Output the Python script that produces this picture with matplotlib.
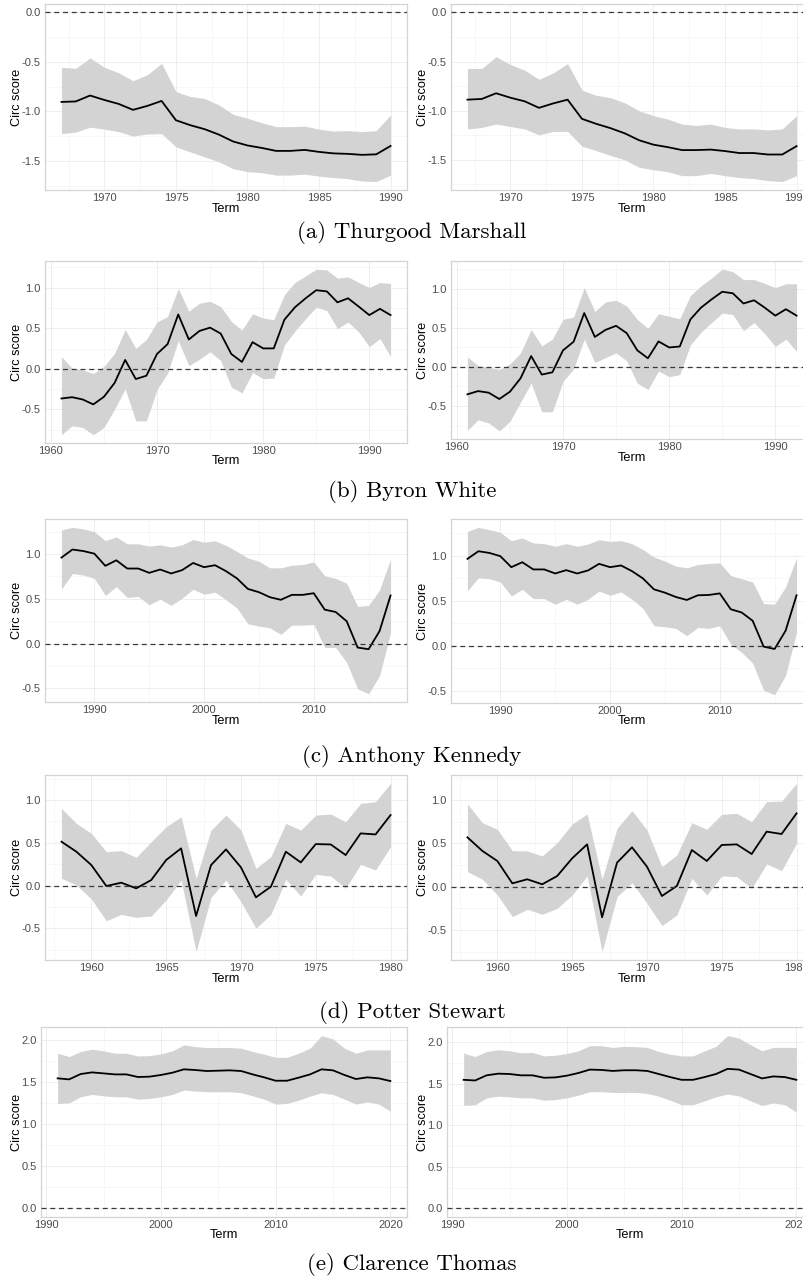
import numpy as np
import matplotlib
matplotlib.use("Agg")
import matplotlib.pyplot as plt
from matplotlib.ticker import MultipleLocator, FormatStrFormatter

plt.rcParams["font.family"] = ["Liberation Sans", "DejaVu Sans"]
plt.rcParams["axes.unicode_minus"] = False

# ---------------- data ----------------
marshall_years = list(range(1967, 1991))
marshall_mean_l = [-0.905, -0.90, -0.84, -0.885, -0.925, -0.985, -0.945, -0.895, -1.09, -1.14, -1.18, -1.235,
                   -1.305, -1.345, -1.37, -1.40, -1.40, -1.39, -1.41, -1.425, -1.43, -1.44, -1.435, -1.35]
marshall_hi_l = [-0.555, -0.565, -0.46, -0.555, -0.61, -0.69, -0.63, -0.515, -0.80, -0.85, -0.87, -0.935,
                 -1.03, -1.07, -1.115, -1.155, -1.155, -1.15, -1.18, -1.20, -1.195, -1.205, -1.195, -1.035]
marshall_lo_l = [-1.225, -1.21, -1.16, -1.18, -1.205, -1.25, -1.23, -1.225, -1.36, -1.41, -1.46, -1.51,
                 -1.58, -1.61, -1.62, -1.645, -1.645, -1.635, -1.655, -1.67, -1.68, -1.705, -1.71, -1.645]
marshall_mean_r = [-0.887, -0.88, -0.822, -0.867, -0.904, -0.97, -0.925, -0.887, -1.082, -1.133, -1.177, -1.23,
                   -1.30, -1.345, -1.37, -1.40, -1.40, -1.395, -1.41, -1.43, -1.43, -1.445, -1.445, -1.36]
marshall_hi_r = [-0.57, -0.57, -0.45, -0.53, -0.587, -0.68, -0.614, -0.52, -0.79, -0.843, -0.867, -0.92,
                 -1.0, -1.05, -1.085, -1.135, -1.15, -1.135, -1.17, -1.185, -1.185, -1.195, -1.185, -1.05]
marshall_lo_r = [-1.185, -1.17, -1.135, -1.16, -1.185, -1.245, -1.21, -1.21, -1.36, -1.405, -1.455, -1.50,
                 -1.575, -1.60, -1.62, -1.66, -1.66, -1.637, -1.66, -1.68, -1.69, -1.71, -1.72, -1.66]

white_years = list(range(1961, 1993))
white_mean_l = [-0.366, -0.35, -0.378, -0.439, -0.345, -0.175, 0.11, -0.126, -0.085, 0.183, 0.305, 0.671,
                0.362, 0.467, 0.508, 0.435, 0.183, 0.085, 0.329, 0.252, 0.252, 0.606, 0.76, 0.87,
                0.97, 0.955, 0.82, 0.87, 0.768, 0.663, 0.74, 0.663]
white_hi_l = [0.15, 0.008, -0.012, -0.06, 0.03, 0.19, 0.484, 0.252, 0.362, 0.577, 0.646, 0.99,
              0.711, 0.809, 0.833, 0.768, 0.585, 0.476, 0.679, 0.626, 0.606, 0.915, 1.065, 1.146,
              1.228, 1.22, 1.118, 1.134, 1.065, 1.004, 1.065, 1.053]
white_lo_l = [-0.813, -0.703, -0.724, -0.813, -0.724, -0.5, -0.248, -0.642, -0.642, -0.256, -0.053, 0.346,
              0.04, 0.118, 0.211, 0.102, -0.224, -0.297, -0.045, -0.122, -0.114, 0.293, 0.467, 0.618,
              0.76, 0.72, 0.496, 0.577, 0.455, 0.272, 0.374, 0.15]
white_mean_r = [-0.35, -0.309, -0.329, -0.41, -0.317, -0.146, 0.138, -0.098, -0.069, 0.211, 0.321, 0.687,
                0.382, 0.472, 0.524, 0.431, 0.211, 0.11, 0.325, 0.248, 0.26, 0.606, 0.756, 0.862,
                0.959, 0.939, 0.809, 0.85, 0.756, 0.654, 0.736, 0.654]
white_hi_r = [0.126, 0.016, -0.004, -0.033, 0.037, 0.179, 0.476, 0.268, 0.354, 0.606, 0.638, 1.012,
              0.707, 0.829, 0.85, 0.776, 0.606, 0.492, 0.679, 0.646, 0.614, 0.911, 1.033, 1.134,
              1.248, 1.215, 1.114, 1.114, 1.065, 1.012, 1.061, 1.061]
white_lo_r = [-0.809, -0.675, -0.715, -0.817, -0.695, -0.451, -0.207, -0.573, -0.573, -0.187, -0.024, 0.354,
              0.057, 0.118, 0.179, 0.077, -0.207, -0.289, -0.053, -0.126, -0.098, 0.28, 0.443, 0.565,
              0.687, 0.667, 0.463, 0.565, 0.423, 0.26, 0.354, 0.199]

kennedy_years = list(range(1987, 2018))
kennedy_mean_l = [0.96, 1.05, 1.033, 1.004, 0.868, 0.93, 0.838, 0.838, 0.79, 0.827, 0.783, 0.82, 0.90,
                  0.853, 0.875, 0.809, 0.728, 0.61, 0.574, 0.518, 0.489, 0.544, 0.544, 0.5625, 0.379,
                  0.353, 0.25, -0.044, -0.0625, 0.14, 0.537]
kennedy_hi_l = [1.268, 1.298, 1.28, 1.25, 1.15, 1.19, 1.114, 1.114, 1.088, 1.103, 1.077, 1.103, 1.162,
                1.132, 1.147, 1.096, 1.029, 0.956, 0.919, 0.846, 0.846, 0.875, 0.882, 0.912, 0.757,
                0.728, 0.673, 0.415, 0.426, 0.599, 0.941]
kennedy_lo_l = [0.607, 0.783, 0.765, 0.728, 0.537, 0.636, 0.515, 0.526, 0.434, 0.496, 0.426, 0.507, 0.607,
                0.551, 0.574, 0.489, 0.397, 0.221, 0.195, 0.176, 0.103, 0.206, 0.206, 0.213, -0.044,
                -0.044, -0.21, -0.504, -0.559, -0.357, 0.121]
kennedy_mean_r = [0.963, 1.048, 1.029, 0.993, 0.871, 0.926, 0.846, 0.846, 0.801, 0.838, 0.801, 0.835, 0.908,
                  0.871, 0.89, 0.827, 0.746, 0.625, 0.588, 0.54, 0.507, 0.559, 0.5625, 0.58, 0.404,
                  0.368, 0.276, -0.011, -0.037, 0.165, 0.559]
kennedy_hi_r = [1.268, 1.313, 1.287, 1.257, 1.165, 1.195, 1.14, 1.132, 1.103, 1.132, 1.103, 1.129, 1.176,
                1.158, 1.165, 1.132, 1.066, 0.985, 0.938, 0.882, 0.864, 0.90, 0.912, 0.919, 0.779,
                0.743, 0.706, 0.467, 0.46, 0.651, 0.974]
kennedy_lo_r = [0.607, 0.754, 0.743, 0.706, 0.551, 0.625, 0.522, 0.522, 0.46, 0.515, 0.46, 0.515, 0.607,
                0.559, 0.596, 0.515, 0.412, 0.221, 0.21, 0.191, 0.11, 0.202, 0.191, 0.221, 0.018,
                -0.074, -0.195, -0.496, -0.544, -0.331, 0.147]

stewart_years = list(range(1958, 1981))
stewart_mean_l = [0.514, 0.397, 0.241, -0.004, 0.035, -0.031, 0.066, 0.30, 0.436, -0.354, 0.241, 0.424,
                  0.214, -0.136, -0.012, 0.397, 0.272, 0.486, 0.482, 0.358, 0.611, 0.599, 0.825]
stewart_hi_l = [0.903, 0.728, 0.611, 0.397, 0.409, 0.331, 0.514, 0.689, 0.805, 0.086, 0.65, 0.825,
                0.65, 0.202, 0.339, 0.728, 0.65, 0.825, 0.837, 0.747, 0.961, 0.981, 1.195]
stewart_lo_l = [0.086, 0.008, -0.156, -0.409, -0.335, -0.37, -0.354, -0.167, 0.066, -0.77, -0.136, 0.066,
                -0.187, -0.498, -0.335, 0.074, -0.121, 0.132, 0.113, -0.031, 0.249, 0.183, 0.455]
stewart_mean_r = [0.569, 0.412, 0.296, 0.038, 0.085, 0.027, 0.123, 0.327, 0.488, -0.354, 0.277, 0.454,
                  0.231, -0.108, 0.008, 0.423, 0.296, 0.481, 0.488, 0.377, 0.635, 0.608, 0.846]
stewart_hi_r = [0.954, 0.738, 0.662, 0.415, 0.412, 0.354, 0.508, 0.723, 0.838, 0.085, 0.673, 0.877,
                0.654, 0.231, 0.365, 0.738, 0.662, 0.835, 0.846, 0.75, 0.981, 0.988, 1.192]
stewart_lo_r = [0.173, 0.085, -0.096, -0.346, -0.262, -0.319, -0.25, -0.096, 0.123, -0.75, -0.115, 0.046,
                -0.192, -0.45, -0.327, 0.096, -0.096, 0.123, 0.115, -0.019, 0.262, 0.185, 0.50]

thomas_years = list(range(1991, 2021))
thomas_mean_l = [1.543, 1.531, 1.594, 1.614, 1.602, 1.59, 1.59, 1.559, 1.563, 1.583, 1.61, 1.65, 1.642,
                 1.63, 1.634, 1.638, 1.63, 1.59, 1.555, 1.515, 1.515, 1.551, 1.59, 1.65, 1.638, 1.583,
                 1.535, 1.555, 1.543, 1.511]
thomas_hi_l = [1.841, 1.801, 1.861, 1.889, 1.869, 1.841, 1.841, 1.809, 1.813, 1.833, 1.869, 1.94, 1.92,
               1.909, 1.909, 1.909, 1.901, 1.861, 1.829, 1.793, 1.793, 1.841, 1.901, 2.05, 2.01, 1.901,
               1.841, 1.881, 1.881, 1.881]
thomas_lo_l = [1.245, 1.252, 1.324, 1.352, 1.336, 1.324, 1.324, 1.296, 1.304, 1.324, 1.352, 1.404, 1.392,
               1.384, 1.384, 1.384, 1.372, 1.336, 1.296, 1.237, 1.245, 1.284, 1.332, 1.372, 1.352, 1.296,
               1.237, 1.264, 1.237, 1.153]
thomas_mean_r = [1.548, 1.54, 1.602, 1.622, 1.618, 1.602, 1.602, 1.573, 1.577, 1.598, 1.63, 1.671, 1.667,
                 1.655, 1.663, 1.663, 1.655, 1.618, 1.581, 1.548, 1.548, 1.581, 1.618, 1.68, 1.671, 1.618,
                 1.565, 1.589, 1.581, 1.548]
thomas_hi_r = [1.869, 1.828, 1.889, 1.91, 1.897, 1.873, 1.877, 1.836, 1.844, 1.864, 1.897, 1.959, 1.959,
               1.938, 1.951, 1.947, 1.938, 1.889, 1.856, 1.836, 1.836, 1.897, 1.951, 2.08, 2.05, 1.971,
               1.897, 1.938, 1.938, 1.938]
thomas_lo_r = [1.24, 1.248, 1.331, 1.351, 1.343, 1.331, 1.331, 1.302, 1.31, 1.331, 1.363, 1.405, 1.405,
               1.396, 1.396, 1.396, 1.384, 1.351, 1.302, 1.248, 1.248, 1.294, 1.343, 1.376, 1.355, 1.294,
               1.24, 1.269, 1.248, 1.158]

captions = ["(a) Thurgood Marshall", "(b) Byron White", "(c) Anthony Kennedy",
            "(d) Potter Stewart", "(e) Clarence Thomas"]

# ---------------- layout (pixels) ----------------
W, H = 804, 1284
fig = plt.figure(figsize=(W / 100, H / 100), dpi=100)
fig.patch.set_facecolor("white")

GRID_MAJOR = "#EBEBEB"
GRID_MINOR = "#F4F4F4"
BORDER = "#D4D4D4"
BAND = "#D3D3D3"


def add_panel(x0, y0, x1, y1, years, mean, lo, hi, xstep, label_x):
    ax = fig.add_axes([x0 / W, 1 - y1 / H, (x1 - x0) / W, (y1 - y0) / H])
    yrs = np.asarray(years, dtype=float)
    span = yrs[-1] - yrs[0]
    ax.set_xlim(yrs[0] - 0.05 * span, yrs[-1] + 0.05 * span)
    ymin, ymax = min(min(lo), 0.0), max(max(hi), 0.0)
    pad = 0.05 * (ymax - ymin)
    ax.set_ylim(ymin - pad, ymax + pad)

    ax.fill_between(yrs, lo, hi, color=BAND, linewidth=0, zorder=2)
    ax.plot(yrs, mean, color="black", linewidth=1.3, zorder=3, solid_joinstyle="round")
    ax.axhline(0, color="#3A3A3A", linewidth=0.9, linestyle=(0, (4, 3)), zorder=4)

    ax.xaxis.set_major_locator(MultipleLocator(xstep))
    ax.xaxis.set_minor_locator(MultipleLocator(xstep / 2))
    ax.yaxis.set_major_locator(MultipleLocator(0.5))
    ax.yaxis.set_minor_locator(MultipleLocator(0.25))
    ax.yaxis.set_major_formatter(FormatStrFormatter("%.1f"))
    ax.grid(which="major", color=GRID_MAJOR, linewidth=0.6, zorder=0)
    ax.grid(which="minor", color=GRID_MINOR, linewidth=0.5, zorder=0)
    ax.set_axisbelow(True)

    ax.tick_params(which="both", length=0, labelsize=8, labelcolor="#4D4D4D")
    ax.tick_params(axis="y", pad=3)
    ax.tick_params(axis="x", pad=2.5)
    for s in ax.spines.values():
        s.set_color(BORDER)
        s.set_linewidth(0.9)

    w, h = x1 - x0, y1 - y0
    ax.set_xlabel("Term", fontsize=9.2, color="black")
    ax.set_ylabel("Circ score", fontsize=9.2, color="black")
    ax.xaxis.set_label_coords(0.5, -(18.5 / h))
    ax.yaxis.set_label_coords((label_x - x0) / w, 0.5)
    ax.yaxis.label.set_va("center")
    ax.xaxis.label.set_va("center")
    return ax


rows = [
    # (years, left data, right data, xstep, left rect, right rect, caption y)
    (marshall_years, (marshall_mean_l, marshall_lo_l, marshall_hi_l),
     (marshall_mean_r, marshall_lo_r, marshall_hi_r), 5, (45, 4, 407, 190), (451, 4, 813, 190), 233),
    (white_years, (white_mean_l, white_lo_l, white_hi_l),
     (white_mean_r, white_lo_r, white_hi_r), 10, (45, 261, 407, 443), (451, 261, 813, 439), 492),
    (kennedy_years, (kennedy_mean_l, kennedy_lo_l, kennedy_hi_l),
     (kennedy_mean_r, kennedy_lo_r, kennedy_hi_r), 10, (45, 519, 407, 702), (451, 519, 813, 703), 757),
    (stewart_years, (stewart_mean_l, stewart_lo_l, stewart_hi_l),
     (stewart_mean_r, stewart_lo_r, stewart_hi_r), 5, (45, 775, 407, 960), (451, 775, 813, 960), 1013),
    (thomas_years, (thomas_mean_l, thomas_lo_l, thomas_hi_l),
     (thomas_mean_r, thomas_lo_r, thomas_hi_r), 10, (41, 1027, 407, 1217), (447, 1027, 813, 1217), 1265),
]

for (years, left, right, xstep, rl, rr, cy), cap in zip(rows, captions):
    add_panel(*rl, years, *left, xstep, label_x=17)
    add_panel(*rr, years, *right, xstep, label_x=423)
    fig.text(412 / W, 1 - cy / H, cap, family="cmr10", fontsize=16.5,
             ha="center", va="center", color="black")

fig.savefig("out.png", dpi=100)
